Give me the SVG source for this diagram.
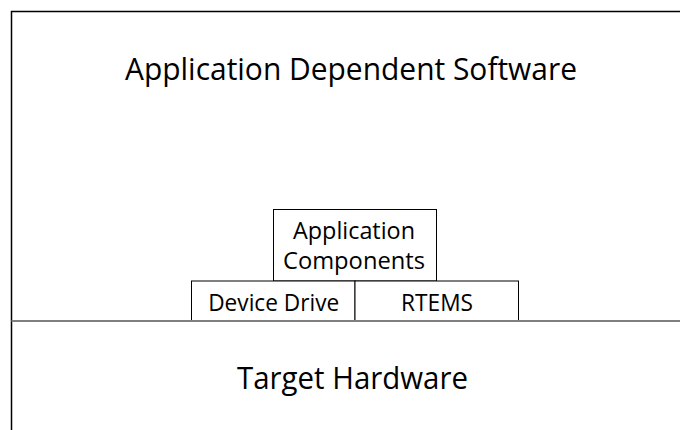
<svg xmlns="http://www.w3.org/2000/svg" width="680" height="430" viewBox="0 0 680 430">
  <style>
    .box { fill: #ffffff; stroke: #000000; stroke-width: 1; }
    .frame { fill: none; stroke: #000000; stroke-width: 1.5; }
    .divider { fill: none; stroke: #7f7f7f; stroke-width: 1.8; }
    text { font-family: "Open Sans", "Noto Sans", "Liberation Sans", sans-serif; fill: #000000; text-anchor: middle; }
    .big { font-size: 31px; }
    .small { font-size: 23px; }
  </style>
  <rect width="680" height="430" fill="#ffffff"/>

  <!-- layer frame -->
  <g id="frame">
    <path class="frame" d="M11.5 430 V11.5 H680"/>
  </g>

  <g id="app-software">
    <text class="big" x="351" y="79.5" textLength="452" lengthAdjust="spacingAndGlyphs">Application Dependent Software</text>
  </g>

  <g id="app-components">
    <rect class="box" x="273.5" y="209.5" width="163" height="71.5"/>
    <text class="small" x="354" y="238.5" textLength="122" lengthAdjust="spacingAndGlyphs">Application</text>
    <text class="small" x="354" y="269" textLength="142" lengthAdjust="spacingAndGlyphs">Components</text>
  </g>

  <g id="device-drive">
    <rect class="box" x="191.5" y="281" width="163.5" height="40"/>
    <text class="small" x="273.7" y="310.5" textLength="131" lengthAdjust="spacingAndGlyphs">Device Drive</text>
  </g>

  <g id="rtems">
    <rect class="box" x="355" y="281" width="163.5" height="40"/>
    <text class="small" x="437" y="310.5" textLength="72" lengthAdjust="spacingAndGlyphs">RTEMS</text>
  </g>

  <g id="connectors">
    <line class="divider" x1="11.5" y1="321" x2="680" y2="321"/>
  </g>

  <g id="target-hardware">
    <text class="big" x="352.5" y="388.5" textLength="231" lengthAdjust="spacingAndGlyphs">Target Hardware</text>
  </g>
</svg>
